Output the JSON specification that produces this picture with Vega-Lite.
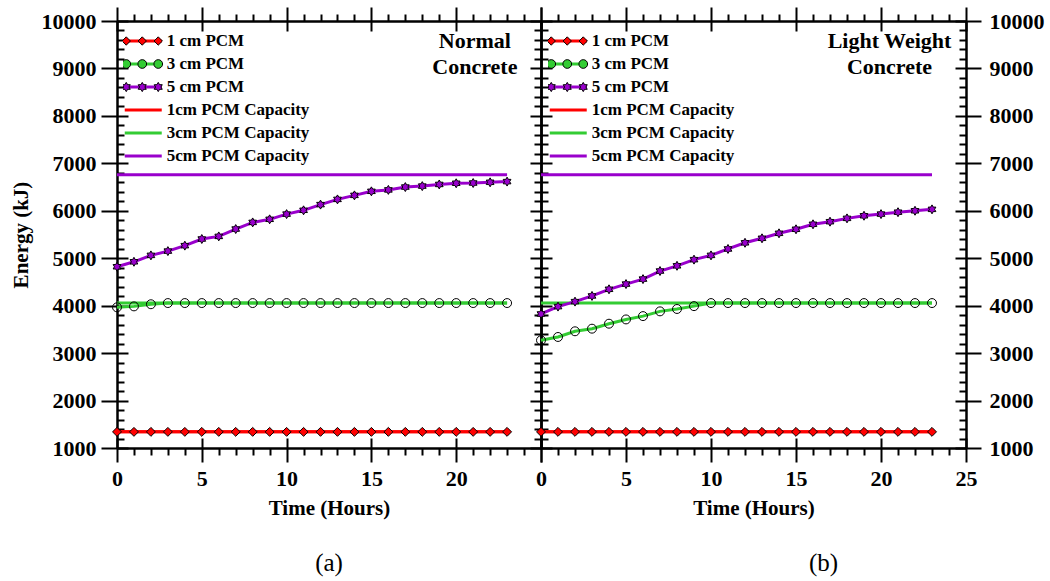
{
  "$schema": "https://vega.github.io/schema/vega-lite/v6.json",
  "background": "white",
  "padding": {"left": 10, "top": 6, "right": 5, "bottom": 5},
  "config": {
    "font": "Liberation Serif",
    "view": {"stroke": null},
    "axis": {
      "labelFont": "Liberation Serif", "labelFontSize": 22, "labelFontWeight": "bold", "labelColor": "black",
      "titleFont": "Liberation Serif", "titleFontSize": 21, "titleFontWeight": "bold", "titleColor": "black",
      "domainColor": "black", "domainWidth": 2.5, "tickColor": "black", "tickWidth": 2,
      "grid": false, "labelFlush": false, "labelOverlap": false, "labelBound": false
    },
    "legend": {
      "labelFont": "Liberation Serif", "labelFontSize": 17, "labelFontWeight": "bold", "labelColor": "black",
      "padding": 0, "rowPadding": 3, "clipHeight": 20, "symbolSize": 342, "symbolOffset": 9.25, "labelOffset": 12.5
    }
  },
  "datasets": {
    "energy": [
      {"panel":"a","series":"1 cm PCM","hour":0,"energy":1340},{"panel":"a","series":"1 cm PCM","hour":1,"energy":1340},{"panel":"a","series":"1 cm PCM","hour":2,"energy":1340},{"panel":"a","series":"1 cm PCM","hour":3,"energy":1340},{"panel":"a","series":"1 cm PCM","hour":4,"energy":1340},{"panel":"a","series":"1 cm PCM","hour":5,"energy":1340},{"panel":"a","series":"1 cm PCM","hour":6,"energy":1340},{"panel":"a","series":"1 cm PCM","hour":7,"energy":1340},{"panel":"a","series":"1 cm PCM","hour":8,"energy":1340},{"panel":"a","series":"1 cm PCM","hour":9,"energy":1340},{"panel":"a","series":"1 cm PCM","hour":10,"energy":1340},{"panel":"a","series":"1 cm PCM","hour":11,"energy":1340},{"panel":"a","series":"1 cm PCM","hour":12,"energy":1340},{"panel":"a","series":"1 cm PCM","hour":13,"energy":1340},{"panel":"a","series":"1 cm PCM","hour":14,"energy":1340},{"panel":"a","series":"1 cm PCM","hour":15,"energy":1340},{"panel":"a","series":"1 cm PCM","hour":16,"energy":1340},{"panel":"a","series":"1 cm PCM","hour":17,"energy":1340},{"panel":"a","series":"1 cm PCM","hour":18,"energy":1340},{"panel":"a","series":"1 cm PCM","hour":19,"energy":1340},{"panel":"a","series":"1 cm PCM","hour":20,"energy":1340},{"panel":"a","series":"1 cm PCM","hour":21,"energy":1340},{"panel":"a","series":"1 cm PCM","hour":22,"energy":1340},{"panel":"a","series":"1 cm PCM","hour":23,"energy":1340},
      {"panel":"a","series":"3 cm PCM","hour":0,"energy":3965},{"panel":"a","series":"3 cm PCM","hour":1,"energy":3985},{"panel":"a","series":"3 cm PCM","hour":2,"energy":4030},{"panel":"a","series":"3 cm PCM","hour":3,"energy":4055},{"panel":"a","series":"3 cm PCM","hour":4,"energy":4055},{"panel":"a","series":"3 cm PCM","hour":5,"energy":4055},{"panel":"a","series":"3 cm PCM","hour":6,"energy":4055},{"panel":"a","series":"3 cm PCM","hour":7,"energy":4055},{"panel":"a","series":"3 cm PCM","hour":8,"energy":4055},{"panel":"a","series":"3 cm PCM","hour":9,"energy":4055},{"panel":"a","series":"3 cm PCM","hour":10,"energy":4055},{"panel":"a","series":"3 cm PCM","hour":11,"energy":4055},{"panel":"a","series":"3 cm PCM","hour":12,"energy":4055},{"panel":"a","series":"3 cm PCM","hour":13,"energy":4055},{"panel":"a","series":"3 cm PCM","hour":14,"energy":4055},{"panel":"a","series":"3 cm PCM","hour":15,"energy":4055},{"panel":"a","series":"3 cm PCM","hour":16,"energy":4055},{"panel":"a","series":"3 cm PCM","hour":17,"energy":4055},{"panel":"a","series":"3 cm PCM","hour":18,"energy":4055},{"panel":"a","series":"3 cm PCM","hour":19,"energy":4055},{"panel":"a","series":"3 cm PCM","hour":20,"energy":4055},{"panel":"a","series":"3 cm PCM","hour":21,"energy":4055},{"panel":"a","series":"3 cm PCM","hour":22,"energy":4055},{"panel":"a","series":"3 cm PCM","hour":23,"energy":4055},
      {"panel":"a","series":"5 cm PCM","hour":0,"energy":4820},{"panel":"a","series":"5 cm PCM","hour":1,"energy":4925},{"panel":"a","series":"5 cm PCM","hour":2,"energy":5060},{"panel":"a","series":"5 cm PCM","hour":3,"energy":5150},{"panel":"a","series":"5 cm PCM","hour":4,"energy":5265},{"panel":"a","series":"5 cm PCM","hour":5,"energy":5405},{"panel":"a","series":"5 cm PCM","hour":6,"energy":5460},{"panel":"a","series":"5 cm PCM","hour":7,"energy":5615},{"panel":"a","series":"5 cm PCM","hour":8,"energy":5755},{"panel":"a","series":"5 cm PCM","hour":9,"energy":5820},{"panel":"a","series":"5 cm PCM","hour":10,"energy":5930},{"panel":"a","series":"5 cm PCM","hour":11,"energy":6010},{"panel":"a","series":"5 cm PCM","hour":12,"energy":6130},{"panel":"a","series":"5 cm PCM","hour":13,"energy":6240},{"panel":"a","series":"5 cm PCM","hour":14,"energy":6325},{"panel":"a","series":"5 cm PCM","hour":15,"energy":6410},{"panel":"a","series":"5 cm PCM","hour":16,"energy":6440},{"panel":"a","series":"5 cm PCM","hour":17,"energy":6500},{"panel":"a","series":"5 cm PCM","hour":18,"energy":6520},{"panel":"a","series":"5 cm PCM","hour":19,"energy":6555},{"panel":"a","series":"5 cm PCM","hour":20,"energy":6580},{"panel":"a","series":"5 cm PCM","hour":21,"energy":6585},{"panel":"a","series":"5 cm PCM","hour":22,"energy":6600},{"panel":"a","series":"5 cm PCM","hour":23,"energy":6615},
      {"panel":"b","series":"1 cm PCM","hour":0,"energy":1340},{"panel":"b","series":"1 cm PCM","hour":1,"energy":1340},{"panel":"b","series":"1 cm PCM","hour":2,"energy":1340},{"panel":"b","series":"1 cm PCM","hour":3,"energy":1340},{"panel":"b","series":"1 cm PCM","hour":4,"energy":1340},{"panel":"b","series":"1 cm PCM","hour":5,"energy":1340},{"panel":"b","series":"1 cm PCM","hour":6,"energy":1340},{"panel":"b","series":"1 cm PCM","hour":7,"energy":1340},{"panel":"b","series":"1 cm PCM","hour":8,"energy":1340},{"panel":"b","series":"1 cm PCM","hour":9,"energy":1340},{"panel":"b","series":"1 cm PCM","hour":10,"energy":1340},{"panel":"b","series":"1 cm PCM","hour":11,"energy":1340},{"panel":"b","series":"1 cm PCM","hour":12,"energy":1340},{"panel":"b","series":"1 cm PCM","hour":13,"energy":1340},{"panel":"b","series":"1 cm PCM","hour":14,"energy":1340},{"panel":"b","series":"1 cm PCM","hour":15,"energy":1340},{"panel":"b","series":"1 cm PCM","hour":16,"energy":1340},{"panel":"b","series":"1 cm PCM","hour":17,"energy":1340},{"panel":"b","series":"1 cm PCM","hour":18,"energy":1340},{"panel":"b","series":"1 cm PCM","hour":19,"energy":1340},{"panel":"b","series":"1 cm PCM","hour":20,"energy":1340},{"panel":"b","series":"1 cm PCM","hour":21,"energy":1340},{"panel":"b","series":"1 cm PCM","hour":22,"energy":1340},{"panel":"b","series":"1 cm PCM","hour":23,"energy":1340},
      {"panel":"b","series":"3 cm PCM","hour":0,"energy":3270},{"panel":"b","series":"3 cm PCM","hour":1,"energy":3340},{"panel":"b","series":"3 cm PCM","hour":2,"energy":3460},{"panel":"b","series":"3 cm PCM","hour":3,"energy":3515},{"panel":"b","series":"3 cm PCM","hour":4,"energy":3620},{"panel":"b","series":"3 cm PCM","hour":5,"energy":3710},{"panel":"b","series":"3 cm PCM","hour":6,"energy":3780},{"panel":"b","series":"3 cm PCM","hour":7,"energy":3880},{"panel":"b","series":"3 cm PCM","hour":8,"energy":3930},{"panel":"b","series":"3 cm PCM","hour":9,"energy":3990},{"panel":"b","series":"3 cm PCM","hour":10,"energy":4055},{"panel":"b","series":"3 cm PCM","hour":11,"energy":4055},{"panel":"b","series":"3 cm PCM","hour":12,"energy":4055},{"panel":"b","series":"3 cm PCM","hour":13,"energy":4055},{"panel":"b","series":"3 cm PCM","hour":14,"energy":4055},{"panel":"b","series":"3 cm PCM","hour":15,"energy":4055},{"panel":"b","series":"3 cm PCM","hour":16,"energy":4055},{"panel":"b","series":"3 cm PCM","hour":17,"energy":4055},{"panel":"b","series":"3 cm PCM","hour":18,"energy":4055},{"panel":"b","series":"3 cm PCM","hour":19,"energy":4055},{"panel":"b","series":"3 cm PCM","hour":20,"energy":4055},{"panel":"b","series":"3 cm PCM","hour":21,"energy":4055},{"panel":"b","series":"3 cm PCM","hour":22,"energy":4055},{"panel":"b","series":"3 cm PCM","hour":23,"energy":4055},
      {"panel":"b","series":"5 cm PCM","hour":0,"energy":3825},{"panel":"b","series":"5 cm PCM","hour":1,"energy":3980},{"panel":"b","series":"5 cm PCM","hour":2,"energy":4085},{"panel":"b","series":"5 cm PCM","hour":3,"energy":4205},{"panel":"b","series":"5 cm PCM","hour":4,"energy":4345},{"panel":"b","series":"5 cm PCM","hour":5,"energy":4455},{"panel":"b","series":"5 cm PCM","hour":6,"energy":4560},{"panel":"b","series":"5 cm PCM","hour":7,"energy":4730},{"panel":"b","series":"5 cm PCM","hour":8,"energy":4840},{"panel":"b","series":"5 cm PCM","hour":9,"energy":4970},{"panel":"b","series":"5 cm PCM","hour":10,"energy":5060},{"panel":"b","series":"5 cm PCM","hour":11,"energy":5195},{"panel":"b","series":"5 cm PCM","hour":12,"energy":5325},{"panel":"b","series":"5 cm PCM","hour":13,"energy":5420},{"panel":"b","series":"5 cm PCM","hour":14,"energy":5525},{"panel":"b","series":"5 cm PCM","hour":15,"energy":5610},{"panel":"b","series":"5 cm PCM","hour":16,"energy":5715},{"panel":"b","series":"5 cm PCM","hour":17,"energy":5770},{"panel":"b","series":"5 cm PCM","hour":18,"energy":5840},{"panel":"b","series":"5 cm PCM","hour":19,"energy":5895},{"panel":"b","series":"5 cm PCM","hour":20,"energy":5930},{"panel":"b","series":"5 cm PCM","hour":21,"energy":5970},{"panel":"b","series":"5 cm PCM","hour":22,"energy":6000},{"panel":"b","series":"5 cm PCM","hour":23,"energy":6030}
    ],
    "capacity": [
      {"panel":"a","series":"1cm PCM Capacity","hour":0,"energy":1340},{"panel":"a","series":"1cm PCM Capacity","hour":23,"energy":1340},
      {"panel":"a","series":"3cm PCM Capacity","hour":0,"energy":4055},{"panel":"a","series":"3cm PCM Capacity","hour":23,"energy":4055},
      {"panel":"a","series":"5cm PCM Capacity","hour":0,"energy":6760},{"panel":"a","series":"5cm PCM Capacity","hour":23,"energy":6760},
      {"panel":"b","series":"1cm PCM Capacity","hour":0,"energy":1340},{"panel":"b","series":"1cm PCM Capacity","hour":23,"energy":1340},
      {"panel":"b","series":"3cm PCM Capacity","hour":0,"energy":4055},{"panel":"b","series":"3cm PCM Capacity","hour":23,"energy":4055},
      {"panel":"b","series":"5cm PCM Capacity","hour":0,"energy":6760},{"panel":"b","series":"5cm PCM Capacity","hour":23,"energy":6760}
    ]
  },
  "spacing": 0,
  "bounds": "flush",
  "resolve": {
    "scale": {"x": "independent", "y": "independent", "stroke": "independent", "fill": "independent", "shape": "independent"},
    "axis": {"x": "independent", "y": "independent"},
    "legend": {"stroke": "independent", "fill": "independent", "shape": "independent"}
  },
  "hconcat": [
    {
      "width": 424,
      "height": 427,
      "title": {"text": "(a)", "orient": "bottom", "anchor": "middle", "font": "Liberation Serif", "fontSize": 25, "fontWeight": "normal", "color": "black", "offset": 33},
      "layer": [
        {
          "data": {"name": "capacity"},
          "transform": [{"filter": "datum.panel === 'a'"}],
          "mark": {"type": "line", "strokeWidth": 3},
          "encoding": {
            "x": {"field": "hour", "type": "quantitative", "scale": {"domain": [0, 25], "nice": false, "zero": false},
                  "axis": {"orient": "bottom", "values": [0, 5, 10, 15, 20, 25], "tickSize": -10, "labels": false, "domain": false, "title": null}},
            "y": {"field": "energy", "type": "quantitative", "scale": {"domain": [1000, 10000], "nice": false, "zero": false},
                  "axis": {"orient": "left", "values": [1000, 2000, 3000, 4000, 5000, 6000, 7000, 8000, 9000, 10000], "tickSize": -11, "labels": false, "domain": false, "title": null}},
            "stroke": {"field": "series", "type": "nominal",
                       "scale": {"domain": ["1 cm PCM", "3 cm PCM", "5 cm PCM", "1cm PCM Capacity", "3cm PCM Capacity", "5cm PCM Capacity"], "range": ["#ff0000", "#33cc33", "#9900cc", "#ff0000", "#33cc33", "#9900cc"]},
                       "legend": {"orient": "none", "legendX": 6, "legendY": 10, "title": null, "symbolType": "M-2,0L2,0", "symbolStrokeWidth": 3}}
          }
        },
        {
          "data": {"name": "energy"},
          "transform": [{"filter": "datum.panel === 'a'"}],
          "mark": {"type": "line", "strokeWidth": 3},
          "encoding": {
            "x": {"field": "hour", "type": "quantitative", "scale": {"domain": [0, 25], "nice": false, "zero": false},
                  "axis": {"orient": "bottom", "values": [0, 1, 2, 3, 4, 5, 6, 7, 8, 9, 10, 11, 12, 13, 14, 15, 16, 17, 18, 19, 20, 21, 22, 23, 24, 25], "format": "d",
                           "labelExpr": "datum.value % 5 === 0 && datum.value < 25 ? datum.label : ''",
                           "tickSize": {"condition": {"test": "datum.value % 5 === 0", "value": 14}, "value": 7},
                           "labelPadding": 6, "title": "Time (Hours)", "titlePadding": 8}},
            "y": {"field": "energy", "type": "quantitative", "scale": {"domain": [1000, 10000], "nice": false, "zero": false},
                  "axis": {"orient": "left", "values": [1000,1200,1400,1600,1800,2000,2200,2400,2600,2800,3000,3200,3400,3600,3800,4000,4200,4400,4600,4800,5000,5200,5400,5600,5800,6000,6200,6400,6600,6800,7000,7200,7400,7600,7800,8000,8200,8400,8600,8800,9000,9200,9400,9600,9800,10000], "format": "d",
                           "labelExpr": "datum.value % 1000 === 0 ? datum.label : ''",
                           "tickSize": {"condition": {"test": "datum.value % 1000 === 0", "value": 16}, "value": -7},
                           "labelPadding": 5, "title": "Energy (kJ)", "titlePadding": 10}},
            "stroke": {"field": "series", "type": "nominal",
                       "scale": {"domain": ["1 cm PCM", "3 cm PCM", "5 cm PCM", "1cm PCM Capacity", "3cm PCM Capacity", "5cm PCM Capacity"], "range": ["#ff0000", "#33cc33", "#9900cc", "#ff0000", "#33cc33", "#9900cc"]},
                       "legend": {"orient": "none", "legendX": 6, "legendY": 10, "title": null, "symbolType": "M-2,0L2,0", "symbolStrokeWidth": 3}}
          }
        },
        {
          "data": {"name": "energy"},
          "transform": [{"filter": "datum.panel === 'a'"}],
          "mark": {"type": "point", "filled": true, "size": 80, "stroke": "black", "strokeWidth": 1, "opacity": 1},
          "encoding": {
            "x": {"field": "hour", "type": "quantitative", "scale": {"domain": [0, 25], "nice": false, "zero": false},
                  "axis": {"orient": "top", "values": [0, 1, 2, 3, 4, 5, 6, 7, 8, 9, 10, 11, 12, 13, 14, 15, 16, 17, 18, 19, 20, 21, 22, 23, 24, 25],
                           "tickSize": {"condition": {"test": "datum.value % 5 === 0", "value": 14}, "value": 7}, "labels": false, "title": null}},
            "y": {"field": "energy", "type": "quantitative", "scale": {"domain": [1000, 10000], "nice": false, "zero": false},
                  "axis": {"orient": "right", "values": [1000,1200,1400,1600,1800,2000,2200,2400,2600,2800,3000,3200,3400,3600,3800,4000,4200,4400,4600,4800,5000,5200,5400,5600,5800,6000,6200,6400,6600,6800,7000,7200,7400,7600,7800,8000,8200,8400,8600,8800,9000,9200,9400,9600,9800,10000],
                           "tickSize": {"condition": {"test": "datum.value % 1000 === 0", "value": -11}, "value": -7}, "labels": false, "title": null}},
            "fill": {"condition": {"test": "datum.series === '3 cm PCM'", "value": "transparent"},
                     "field": "series", "type": "nominal",
                     "scale": {"domain": ["1 cm PCM", "3 cm PCM", "5 cm PCM"], "range": ["#ff0000", "#33cc33", "#9900cc"]},
                     "legend": {"orient": "none", "legendX": 6, "legendY": 10, "title": null, "zindex": 2, "labelExpr": "''",
                                "symbolStrokeColor": "black", "symbolStrokeWidth": 1, "symbolOpacity": 1,
                                "encode": {"symbols": {"update": {"shape": {"signal": "datum.value === '1 cm PCM' ? 'M-2.18,0L-1.73,-0.45L-1.28,0L-1.73,0.45Z M-0.45,0L0,-0.45L0.45,0L0,0.45Z M1.28,0L1.73,-0.45L2.18,0L1.73,0.45Z' : datum.value === '3 cm PCM' ? 'M-2.2,0A0.47,0.47 0 1,0 -1.26,0A0.47,0.47 0 1,0 -2.2,0Z M-0.47,0A0.47,0.47 0 1,0 0.47,0A0.47,0.47 0 1,0 -0.47,0Z M1.26,0A0.47,0.47 0 1,0 2.2,0A0.47,0.47 0 1,0 1.26,0Z' : 'M-1.73,-0.5L-1.586,-0.25L-1.297,-0.25L-1.441,0L-1.297,0.25L-1.586,0.25L-1.73,0.5L-1.874,0.25L-2.163,0.25L-2.019,0L-2.163,-0.25L-1.874,-0.25Z M0,-0.5L0.144,-0.25L0.433,-0.25L0.289,0L0.433,0.25L0.144,0.25L0,0.5L-0.144,0.25L-0.433,0.25L-0.289,0L-0.433,-0.25L-0.144,-0.25Z M1.73,-0.5L1.874,-0.25L2.163,-0.25L2.019,0L2.163,0.25L1.874,0.25L1.73,0.5L1.586,0.25L1.297,0.25L1.441,0L1.297,-0.25L1.586,-0.25Z'"}}}}}},
            "shape": {"field": "series", "type": "nominal",
                      "scale": {"range": ["diamond", "circle", "M0,-1L0.289,-0.5L0.866,-0.5L0.577,0L0.866,0.5L0.289,0.5L0,1L-0.289,0.5L-0.866,0.5L-0.577,0L-0.866,-0.5L-0.289,-0.5Z"]},
                      "legend": null}
          }
        },
        {
          "data": {"values": [{}]},
          "mark": {"type": "text", "text": ["Normal", "Concrete"], "font": "Liberation Serif", "fontSize": 22, "fontWeight": "bold", "align": "center", "baseline": "top", "lineHeight": 26, "color": "black"},
          "encoding": {
            "x": {"datum": 21.1, "type": "quantitative", "scale": {"domain": [0, 25], "nice": false, "zero": false},
                  "axis": {"orient": "top", "values": [0, 5, 10, 15, 20, 25], "tickSize": -10, "labels": false, "domain": false, "title": null}},
            "y": {"datum": 9790, "type": "quantitative", "scale": {"domain": [1000, 10000], "nice": false, "zero": false}, "axis": null}
          }
        }
      ],
      "resolve": {"axis": {"x": "independent", "y": "independent"}}
    },
    {
      "width": 425,
      "height": 427,
      "title": {"text": "(b)", "orient": "bottom", "anchor": "middle", "font": "Liberation Serif", "fontSize": 25, "fontWeight": "normal", "color": "black", "offset": 33, "dx": 70},
      "layer": [
        {
          "data": {"name": "capacity"},
          "transform": [{"filter": "datum.panel === 'b'"}],
          "mark": {"type": "line", "strokeWidth": 3},
          "encoding": {
            "x": {"field": "hour", "type": "quantitative", "scale": {"domain": [0, 25], "nice": false, "zero": false},
                  "axis": {"orient": "bottom", "values": [0, 5, 10, 15, 20, 25], "tickSize": -10, "labels": false, "domain": false, "title": null}},
            "y": {"field": "energy", "type": "quantitative", "scale": {"domain": [1000, 10000], "nice": false, "zero": false},
                  "axis": {"orient": "right", "values": [1000, 2000, 3000, 4000, 5000, 6000, 7000, 8000, 9000, 10000], "tickSize": -11, "labels": false, "domain": false, "title": null}},
            "stroke": {"field": "series", "type": "nominal",
                       "scale": {"domain": ["1 cm PCM", "3 cm PCM", "5 cm PCM", "1cm PCM Capacity", "3cm PCM Capacity", "5cm PCM Capacity"], "range": ["#ff0000", "#33cc33", "#9900cc", "#ff0000", "#33cc33", "#9900cc"]},
                       "legend": {"orient": "none", "legendX": 7, "legendY": 10, "title": null, "symbolType": "M-2,0L2,0", "symbolStrokeWidth": 3}}
          }
        },
        {
          "data": {"name": "energy"},
          "transform": [{"filter": "datum.panel === 'b'"}],
          "mark": {"type": "line", "strokeWidth": 3},
          "encoding": {
            "x": {"field": "hour", "type": "quantitative", "scale": {"domain": [0, 25], "nice": false, "zero": false},
                  "axis": {"orient": "bottom", "values": [0, 1, 2, 3, 4, 5, 6, 7, 8, 9, 10, 11, 12, 13, 14, 15, 16, 17, 18, 19, 20, 21, 22, 23, 24, 25], "format": "d",
                           "labelExpr": "datum.value % 5 === 0 ? datum.label : ''",
                           "tickSize": {"condition": {"test": "datum.value % 5 === 0", "value": 14}, "value": 7},
                           "labelPadding": 6, "title": "Time (Hours)", "titlePadding": 8}},
            "y": {"field": "energy", "type": "quantitative", "scale": {"domain": [1000, 10000], "nice": false, "zero": false},
                  "axis": {"orient": "right", "values": [1000,1200,1400,1600,1800,2000,2200,2400,2600,2800,3000,3200,3400,3600,3800,4000,4200,4400,4600,4800,5000,5200,5400,5600,5800,6000,6200,6400,6600,6800,7000,7200,7400,7600,7800,8000,8200,8400,8600,8800,9000,9200,9400,9600,9800,10000], "format": "d",
                           "labelExpr": "datum.value % 1000 === 0 ? datum.label : ''",
                           "tickSize": {"condition": {"test": "datum.value % 1000 === 0", "value": 15}, "value": -7},
                           "labelPadding": 8, "title": null}},
            "stroke": {"field": "series", "type": "nominal",
                       "scale": {"domain": ["1 cm PCM", "3 cm PCM", "5 cm PCM", "1cm PCM Capacity", "3cm PCM Capacity", "5cm PCM Capacity"], "range": ["#ff0000", "#33cc33", "#9900cc", "#ff0000", "#33cc33", "#9900cc"]},
                       "legend": {"orient": "none", "legendX": 7, "legendY": 10, "title": null, "symbolType": "M-2,0L2,0", "symbolStrokeWidth": 3}}
          }
        },
        {
          "data": {"name": "energy"},
          "transform": [{"filter": "datum.panel === 'b'"}],
          "mark": {"type": "point", "filled": true, "size": 80, "stroke": "black", "strokeWidth": 1, "opacity": 1},
          "encoding": {
            "x": {"field": "hour", "type": "quantitative", "scale": {"domain": [0, 25], "nice": false, "zero": false},
                  "axis": {"orient": "top", "values": [0, 1, 2, 3, 4, 5, 6, 7, 8, 9, 10, 11, 12, 13, 14, 15, 16, 17, 18, 19, 20, 21, 22, 23, 24, 25],
                           "tickSize": {"condition": {"test": "datum.value % 5 === 0", "value": 14}, "value": 7}, "labels": false, "title": null}},
            "y": {"field": "energy", "type": "quantitative", "scale": {"domain": [1000, 10000], "nice": false, "zero": false},
                  "axis": {"orient": "left", "values": [1000,1200,1400,1600,1800,2000,2200,2400,2600,2800,3000,3200,3400,3600,3800,4000,4200,4400,4600,4800,5000,5200,5400,5600,5800,6000,6200,6400,6600,6800,7000,7200,7400,7600,7800,8000,8200,8400,8600,8800,9000,9200,9400,9600,9800,10000],
                           "tickSize": {"condition": {"test": "datum.value % 1000 === 0", "value": -11}, "value": -7}, "labels": false, "title": null}},
            "fill": {"condition": {"test": "datum.series === '3 cm PCM'", "value": "transparent"},
                     "field": "series", "type": "nominal",
                     "scale": {"domain": ["1 cm PCM", "3 cm PCM", "5 cm PCM"], "range": ["#ff0000", "#33cc33", "#9900cc"]},
                     "legend": {"orient": "none", "legendX": 7, "legendY": 10, "title": null, "zindex": 2, "labelExpr": "''",
                                "symbolStrokeColor": "black", "symbolStrokeWidth": 1, "symbolOpacity": 1,
                                "encode": {"symbols": {"update": {"shape": {"signal": "datum.value === '1 cm PCM' ? 'M-2.18,0L-1.73,-0.45L-1.28,0L-1.73,0.45Z M-0.45,0L0,-0.45L0.45,0L0,0.45Z M1.28,0L1.73,-0.45L2.18,0L1.73,0.45Z' : datum.value === '3 cm PCM' ? 'M-2.2,0A0.47,0.47 0 1,0 -1.26,0A0.47,0.47 0 1,0 -2.2,0Z M-0.47,0A0.47,0.47 0 1,0 0.47,0A0.47,0.47 0 1,0 -0.47,0Z M1.26,0A0.47,0.47 0 1,0 2.2,0A0.47,0.47 0 1,0 1.26,0Z' : 'M-1.73,-0.5L-1.586,-0.25L-1.297,-0.25L-1.441,0L-1.297,0.25L-1.586,0.25L-1.73,0.5L-1.874,0.25L-2.163,0.25L-2.019,0L-2.163,-0.25L-1.874,-0.25Z M0,-0.5L0.144,-0.25L0.433,-0.25L0.289,0L0.433,0.25L0.144,0.25L0,0.5L-0.144,0.25L-0.433,0.25L-0.289,0L-0.433,-0.25L-0.144,-0.25Z M1.73,-0.5L1.874,-0.25L2.163,-0.25L2.019,0L2.163,0.25L1.874,0.25L1.73,0.5L1.586,0.25L1.297,0.25L1.441,0L1.297,-0.25L1.586,-0.25Z'"}}}}}},
            "shape": {"field": "series", "type": "nominal",
                      "scale": {"range": ["diamond", "circle", "M0,-1L0.289,-0.5L0.866,-0.5L0.577,0L0.866,0.5L0.289,0.5L0,1L-0.289,0.5L-0.866,0.5L-0.577,0L-0.866,-0.5L-0.289,-0.5Z"]},
                      "legend": null}
          }
        },
        {
          "data": {"values": [{}]},
          "mark": {"type": "text", "text": ["Light Weight", "Concrete"], "font": "Liberation Serif", "fontSize": 22, "fontWeight": "bold", "align": "center", "baseline": "top", "lineHeight": 26, "color": "black"},
          "encoding": {
            "x": {"datum": 20.5, "type": "quantitative", "scale": {"domain": [0, 25], "nice": false, "zero": false},
                  "axis": {"orient": "top", "values": [0, 5, 10, 15, 20, 25], "tickSize": -10, "labels": false, "domain": false, "title": null}},
            "y": {"datum": 9790, "type": "quantitative", "scale": {"domain": [1000, 10000], "nice": false, "zero": false}, "axis": null}
          }
        }
      ],
      "resolve": {"axis": {"x": "independent", "y": "independent"}}
    }
  ]
}
